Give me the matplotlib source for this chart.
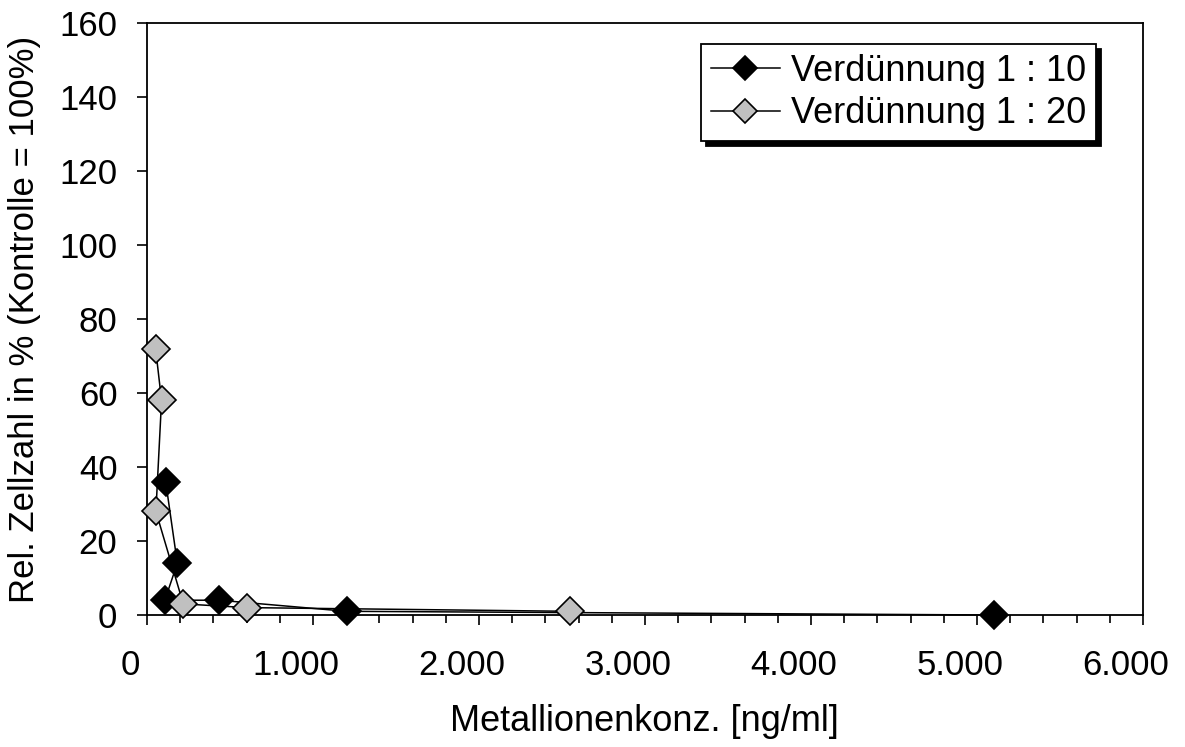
import matplotlib
matplotlib.use("Agg")
import matplotlib.pyplot as plt
import matplotlib.transforms as mtransforms
from matplotlib.ticker import MultipleLocator, FuncFormatter

plt.rcParams['font.family'] = ['Liberation Sans', 'DejaVu Sans']

# Werte
konz_10 = [113, 183, 108, 434, 1203, 5105]
zell_10 = [36, 14, 4, 4, 1, 0]
konz_20 = [52, 88, 54, 219, 600, 2550]
zell_20 = [72, 58, 28, 3, 2, 1]

FS = 25

fig = plt.figure(figsize=(11.85, 7.47), dpi=100)
ax = fig.add_axes([0.124, 0.1767, 0.8405, 0.7925])

ax.plot(konz_10, zell_10, color='black', lw=1.1, marker='D', ms=14,
        mfc='black', mec='black', mew=1.2, label='Verdünnung 1 : 10', clip_on=False, zorder=3)
ax.plot(konz_20, zell_20, color='black', lw=1.1, marker='D', ms=14,
        mfc='#c0c0c0', mec='black', mew=1.2, label='Verdünnung 1 : 20', clip_on=False, zorder=3)

ax.set_xlim(0, 6000)
ax.set_ylim(0, 160)
ax.xaxis.set_major_locator(MultipleLocator(1000))
ax.xaxis.set_minor_locator(MultipleLocator(200))
ax.yaxis.set_major_locator(MultipleLocator(20))
ax.xaxis.set_major_formatter(FuncFormatter(lambda v, p: f"{int(v):,}".replace(',', '.')))

ax.tick_params(axis='both', which='major', direction='out', length=7.2, width=1.2,
               labelsize=FS, color='black')
ax.tick_params(axis='x', which='major', pad=17)
ax.tick_params(axis='y', which='major', pad=14)
ax.tick_params(axis='x', which='minor', direction='out', length=5.5, width=1.2)
for s in ax.spines.values():
    s.set_linewidth(1.3)

# Beschriftungen leicht nach links versetzt wie im Original
off = mtransforms.ScaledTranslation(-17 / 100, 0, fig.dpi_scale_trans)
for lab in ax.get_xticklabels():
    lab.set_transform(lab.get_transform() + off)

ax.set_xlabel('Metallionenkonz. [ng/ml]', fontsize=26, labelpad=16)
ax.set_ylabel('Rel. Zellzahl in % (Kontrolle = 100%)', fontsize=FS, labelpad=13)

leg = ax.legend(loc='upper right', bbox_to_anchor=(0.9528, 0.9645), borderaxespad=0,
                fontsize=26, fancybox=False, edgecolor='black', framealpha=1,
                handlelength=1.9, handletextpad=0.3, labelspacing=0.2, borderpad=0.28,
                markerscale=0.85,
                shadow={'ox': 3.6, 'oy': -3.6, 'facecolor': 'black', 'edgecolor': 'black', 'alpha': 1})
leg.get_frame().set_linewidth(1.3)

fig.savefig('out.png', dpi=100)
